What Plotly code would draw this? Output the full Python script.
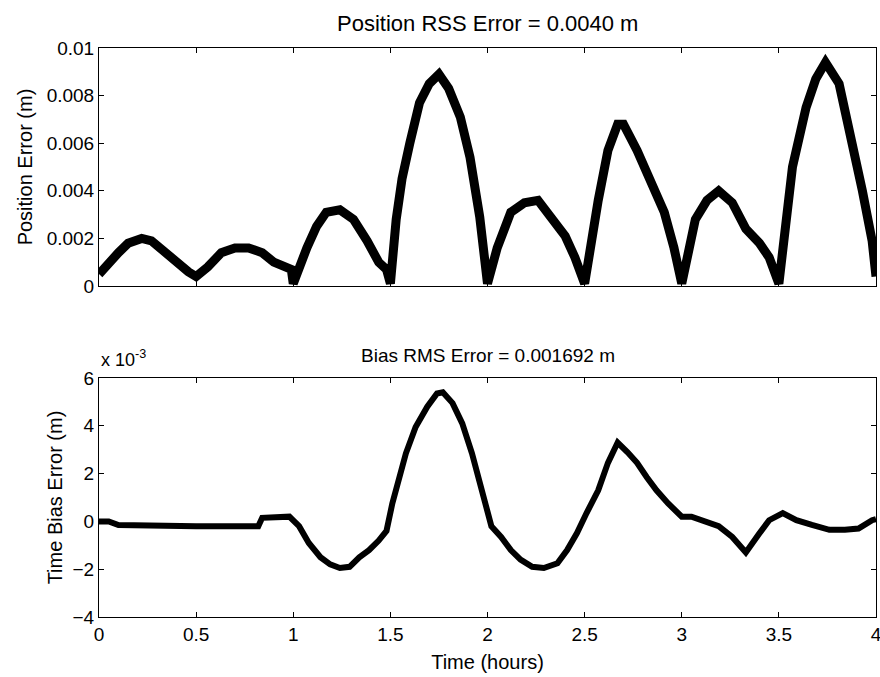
import plotly.graph_objects as go

# time in hours, position RSS error in metres
pos_t = [0.0, 0.05, 0.10, 0.15, 0.22, 0.27, 0.34, 0.41, 0.46, 0.50, 0.56, 0.63, 0.70, 0.77,
         0.84, 0.90, 0.97, 0.99, 1.00, 1.02, 1.07, 1.12, 1.17, 1.24, 1.31, 1.38, 1.44, 1.48,
         1.50, 1.53, 1.56, 1.60, 1.65, 1.70, 1.75, 1.80, 1.86, 1.91, 1.96, 2.00, 2.05, 2.12,
         2.19, 2.26, 2.33, 2.40, 2.45, 2.50, 2.57, 2.62, 2.67, 2.70, 2.77, 2.84, 2.91, 2.96,
         3.00, 3.07, 3.13, 3.19, 3.26, 3.33, 3.40, 3.45, 3.50, 3.57, 3.64, 3.69, 3.74, 3.81,
         3.88, 3.93, 3.98, 4.00]
pos_err = [0.0005, 0.0010, 0.0014, 0.0018, 0.0020, 0.0019, 0.0014, 0.0010, 0.0006, 0.0004,
           0.0008, 0.0014, 0.0016, 0.0016, 0.0014, 0.0010, 0.0008, 0.0007, 0.0001, 0.0006,
           0.0016, 0.0025, 0.0031, 0.0032, 0.0028, 0.0019, 0.0010, 0.0007, 0.0001, 0.0028,
           0.0045, 0.0060, 0.0077, 0.0085, 0.0089, 0.0083, 0.0071, 0.0054, 0.0029, 0.0001,
           0.0016, 0.0031, 0.0035, 0.0036, 0.0029, 0.0021, 0.0012, 0.0001, 0.0036, 0.0057,
           0.0068, 0.0068, 0.0057, 0.0045, 0.0031, 0.0016, 0.0001, 0.0028, 0.0036, 0.0040,
           0.0035, 0.0024, 0.0018, 0.0012, 0.0001, 0.0050, 0.0075, 0.0087, 0.0094, 0.0085,
           0.0061, 0.0040, 0.0019, 0.0004]

# time bias error, in units of 1e-3 m
bias_t = [0.0, 0.05, 0.10, 0.30, 0.50, 0.70, 0.82, 0.84, 0.95, 0.98, 1.03, 1.08, 1.14, 1.19,
          1.24, 1.29, 1.34, 1.39, 1.44, 1.48, 1.51, 1.55, 1.58, 1.63, 1.69, 1.74, 1.77, 1.82,
          1.87, 1.92, 1.97, 2.00, 2.02, 2.07, 2.12, 2.17, 2.23, 2.29, 2.36, 2.41, 2.46, 2.51,
          2.57, 2.62, 2.67, 2.72, 2.77, 2.82, 2.87, 2.93, 3.00, 3.05, 3.12, 3.19, 3.26, 3.33,
          3.40, 3.45, 3.52, 3.59, 3.67, 3.76, 3.84, 3.91, 3.98, 4.00]
bias_err = [0.0, 0.0, -0.15, -0.2, -0.2, -0.2, -0.2, 0.15, 0.15, 0.2, -0.2, -0.9, -1.5, -1.8,
            -1.95, -1.9, -1.5, -1.2, -0.8, -0.4, 0.75, 1.85, 2.85, 3.95, 4.8, 5.35, 5.4, 4.95,
            4.1, 2.85, 1.4, 0.4, -0.2, -0.65, -1.2, -1.6, -1.9, -1.95, -1.75, -1.2, -0.5, 0.35,
            1.3, 2.45, 3.3, 2.9, 2.45, 1.85, 1.3, 0.75, 0.2, 0.2, 0.0, -0.2, -0.65, -1.3,
            -0.5, 0.05, 0.35, 0.05, -0.15, -0.35, -0.35, -0.3, 0.05, 0.1]

x_ticks = [0, 0.5, 1, 1.5, 2, 2.5, 3, 3.5, 4]
pos_ticks = [0, 0.002, 0.004, 0.006, 0.008, 0.01]
bias_ticks = [-4, -2, 0, 2, 4, 6]

FONT = "Liberation Sans, Arial, sans-serif"

fig = go.Figure()
fig.add_trace(go.Scatter(x=pos_t, y=pos_err, mode="lines",
                         line=dict(color="black", width=9), xaxis="x", yaxis="y"))
fig.add_trace(go.Scatter(x=bias_t, y=bias_err, mode="lines",
                         line=dict(color="black", width=6), xaxis="x2", yaxis="y2"))

axis_style = dict(showline=True, linecolor="black", linewidth=1, mirror="ticks",
                  ticks="inside", ticklen=5, tickcolor="black", showgrid=False,
                  zeroline=False, automargin=False, ticklabeloverflow="allow",
                  tickfont=dict(size=19, color="black"))

fig.update_layout(
    width=880, height=677,
    margin=dict(l=99, r=4, t=48, b=60),
    paper_bgcolor="white", plot_bgcolor="white",
    font=dict(family=FONT, color="black"),
    showlegend=False,
    xaxis=dict(axis_style, domain=[0, 1], range=[0, 4], tickvals=x_ticks,
               showticklabels=False, anchor="y"),
    yaxis=dict(axis_style, domain=[0.5817, 1], range=[0, 0.01], tickvals=pos_ticks,
               title=dict(text="Position Error (m)", font=dict(size=20), standoff=8)),
    xaxis2=dict(axis_style, domain=[0, 1], range=[0, 4], tickvals=x_ticks, anchor="y2",
                title=dict(text="Time (hours)", font=dict(size=20), standoff=11)),
    yaxis2=dict(axis_style, domain=[0, 0.42], range=[-4, 6], tickvals=bias_ticks,
                anchor="x2",
                title=dict(text="Time Bias Error (m)", font=dict(size=20), standoff=4)),
    annotations=[
        dict(text="Position RSS Error = 0.0040 m", xref="paper", yref="paper",
             x=0.5, y=1, yshift=10, xanchor="center", yanchor="bottom",
             showarrow=False, font=dict(size=22)),
        dict(text="Bias RMS Error = 0.001692 m", xref="paper", yref="paper",
             x=0.5, y=0.42, yshift=10, xanchor="center", yanchor="bottom",
             showarrow=False, font=dict(size=19)),
        dict(text="x 10<sup>-3</sup>", xref="paper", yref="paper",
             x=0, y=0.42, yshift=6, xanchor="left", yanchor="bottom",
             showarrow=False, font=dict(size=18)),
    ],
)

# drop the browser's default 8px body margin so the figure sits at the page corner
fig.write_html("out.html", config={"displayModeBar": False},
               post_script="document.body.style.margin = '0';")
